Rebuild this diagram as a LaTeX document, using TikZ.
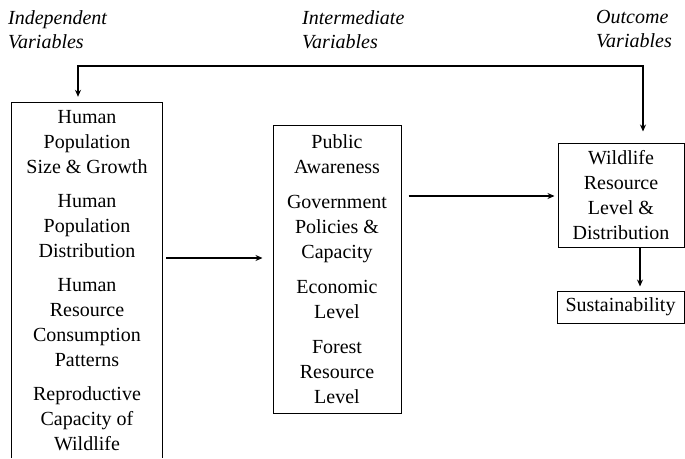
\documentclass[tikz,border=0pt]{standalone}
\usepackage{fontspec}
\setmainfont{Liberation Serif}
\usetikzlibrary{arrows.meta}
\begin{document}
\begin{tikzpicture}[x=1pt,y=-1pt,
  boxtext/.style={align=center, font=\fontsize{20}{25}\selectfont, inner sep=0pt},
  heading/.style={align=left, font=\fontsize{20}{24}\selectfont\itshape, inner sep=0pt},
  frame/.style={draw, line width=1pt},
  conn/.style={line width=1.1pt, -{Stealth[length=7pt,width=6pt]}},
  biconn/.style={line width=1.1pt, {Stealth[length=7pt,width=6pt]}-{Stealth[length=7pt,width=6pt]}}]
\useasboundingbox (0,0) rectangle (685,458);

% headings
\node[heading, anchor=north west] (h1) at (8,10) {Independent\\Variables};
\node[heading, anchor=north west] (h2) at (302,10) {Intermediate\\Variables};
\node[heading, anchor=north west] (h3) at (596,10) {Outcome\\Variables};

% left box (open at the bottom)
\node[boxtext, minimum width=150, minimum height=355] (lb) at (87,280.5)
  {Human\\Population\\Size \& Growth\\[9pt]Human\\Population\\Distribution\\[9pt]Human\\Resource\\Consumption\\Patterns\\[9pt]Reproductive\\Capacity of\\Wildlife};
\draw[line width=1pt] (lb.south west) |- (lb.north east) -- (lb.south east);

% middle box
\node[frame, boxtext, minimum width=128, minimum height=288] (mb) at (337,269)
  {Public\\Awareness\\[10pt]Government\\Policies \&\\Capacity\\[10pt]Economic\\Level\\[10pt]Forest\\Resource\\Level};

% right box
\node[frame, boxtext, minimum width=126, minimum height=104] (rb) at (621,195)
  {Wildlife\\Resource\\Level \&\\Distribution};

% sustainability
\node[frame, boxtext, minimum width=127, minimum height=32] (ss) at (620.5,307)
  {Sustainability};

% connectors
\draw[conn] ([xshift=4pt]lb.east |- 0,258) -- ([xshift=-10pt]mb.west |- 0,258);
\draw[conn] ([xshift=7pt]mb.east |- 0,196) -- ([xshift=-3pt]rb.west |- 0,196);
\draw[conn] (rb.south -| 640,0) -- ([yshift=4pt]ss.north -| 640,0);
\coordinate (fbl) at (78,66);
\coordinate (fbr) at (643,66);
\draw[biconn] ([yshift=6pt]lb.north -| fbl) -- (fbl) -- (fbr) -- ([yshift=11pt]rb.north -| fbr);
\end{tikzpicture}
\end{document}
